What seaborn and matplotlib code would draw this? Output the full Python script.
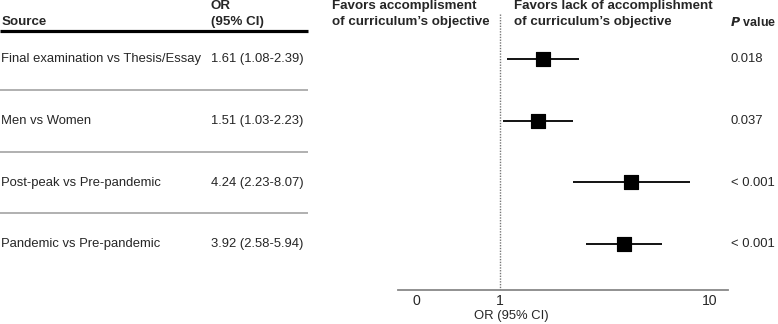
import numpy as np
import matplotlib.pyplot as plt
import seaborn as sns
import pandas as pd

# ----- DATA -----
sources = ["Final examination vs Thesis/Essay", "Men vs Women",
           "Post-peak vs Pre-pandemic", "Pandemic vs Pre-pandemic"]
odds = [1.61, 1.51, 4.24, 3.92]
ci_low = [1.08, 1.03, 2.23, 2.58]
ci_high = [2.39, 2.23, 8.07, 5.94]
p_values = ["0.018", "0.037", "< 0.001", "< 0.001"]
tick_vals = [0.4, 1, 10]
tick_labels = ["0", "1", "10"]

df = pd.DataFrame({"source": sources, "OR": odds, "lo": ci_low, "hi": ci_high,
                   "row": np.arange(len(sources))})

sns.set_style("white")
plt.rcParams['font.family'] = ['Liberation Sans', 'DejaVu Sans']
FS = 9.4
FSB = 9.6

W, H = 778, 324
fig = plt.figure(figsize=(W / 100, H / 100), dpi=100)

# background axes in pixel coordinates for the table
bg = fig.add_axes([0, 0, 1, 1])
bg.set_xlim(0, W)
bg.set_ylim(H, 0)
bg.axis("off")

row_y = [59, 121, 183, 244]
rs = 61.7

bg.text(2, 22, "Source", fontsize=FSB, fontweight="bold", va="center")
bg.text(211, 6, "OR", fontsize=FSB, fontweight="bold", va="center")
bg.text(211, 22, "(95% CI)", fontsize=FSB, fontweight="bold", va="center")
bg.text(332, 6, "Favors accomplisment", fontsize=FSB, fontweight="bold", va="center")
bg.text(332, 22, "of curriculum\u2019s objective", fontsize=FSB, fontweight="bold", va="center")
bg.text(514, 6, "Favors lack of accomplishment", fontsize=FSB, fontweight="bold", va="center")
bg.text(514, 22, "of curriculum\u2019s objective", fontsize=FSB, fontweight="bold", va="center")
bg.text(776, 22, r"$\bfit{P}$ value", fontsize=9.0, fontweight="bold",
        ha="right", va="center")

bg.plot([0, 308], [31, 31], color="black", lw=2.3, solid_capstyle="butt")
for yy in [90, 152, 213]:
    bg.plot([0, 308], [yy, yy], color="#b0b0b0", lw=1.4, solid_capstyle="butt")

for i, r in df.iterrows():
    y = row_y[i]
    bg.text(1, y, r["source"], fontsize=FS, va="center")
    bg.text(211, y, f"{r['OR']:.2f} ({r['lo']:.2f}-{r['hi']:.2f})", fontsize=FS, va="center")
    bg.text(731, y, p_values[i], fontsize=FS, va="center")

bg.text(511, 316, "OR (95% CI)", fontsize=FS, ha="center", va="center")

# forest plot axes
x0, x1, ybot = 398, 728, 290
ax = fig.add_axes([x0 / W, (H - ybot) / H, (x1 - x0) / W, ybot / H])
ax.set_facecolor("none")
ax.set_xscale("log")
ax.set_xlim(0.325, 12.3)
ax.set_ylim((ybot - row_y[0]) / rs, -row_y[0] / rs)

ax.vlines(1, -(row_y[0] - 14) / rs, (ybot - row_y[0]) / rs,
          colors="#777777", linestyles=(0, (1, 1)), lw=1.0)
ax.hlines(df["row"], df["lo"], df["hi"], colors="black", lw=1.3)
sns.scatterplot(data=df, x="OR", y="row", marker="s", s=110, color="black",
                edgecolor="black", ax=ax, legend=False, zorder=3)

for s in ["top", "right", "left"]:
    ax.spines[s].set_visible(False)
ax.spines["bottom"].set_color("#888888")
ax.spines["bottom"].set_linewidth(1.3)
ax.set_yticks([])
ax.set_xticks(tick_vals)
ax.set_xticklabels(tick_labels, fontsize=FS + 0.7)
ax.minorticks_off()
ax.tick_params(axis="x", length=0, pad=3)
ax.set_xlabel("")
ax.set_ylabel("")

fig.savefig("out.png", dpi=100)
